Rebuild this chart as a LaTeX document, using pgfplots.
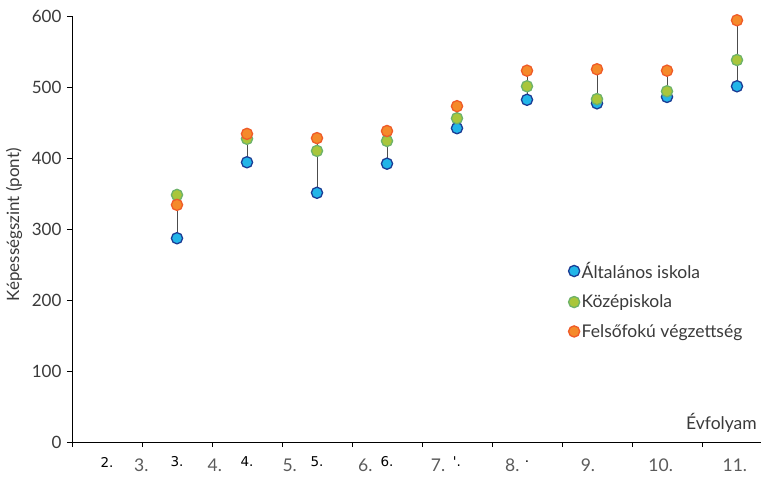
\documentclass[border=0pt]{standalone}
\usepackage{pgfplots}
\pgfplotsset{compat=1.18}
\usepackage{fontspec}
\setmainfont{Lato}
\newfontfamily\blackfont{DejaVu Sans}
\definecolor{bluefill}{HTML}{22B5E8}
\definecolor{blueedge}{HTML}{1B3C94}
\definecolor{greenfill}{HTML}{A9C63B}
\definecolor{greenedge}{HTML}{6DB26A}
\definecolor{orangefill}{HTML}{F58A2A}
\definecolor{orangeedge}{HTML}{EF5B28}
\definecolor{txt}{HTML}{3A3A3A}
\definecolor{graylab}{HTML}{5A5A5A}
\begin{document}
\begin{tikzpicture}
\path[use as bounding box] (-72pt,-36pt) rectangle (689pt,442pt);
\begin{axis}[
 scale only axis, width=689pt, height=426pt,
 xmin=1.5, xmax=11.343, ymin=0, ymax=600,
 clip=false,
 /pgf/number format/assume math mode=true,
 axis lines=left, axis line style={-, black, line width=0.8pt},
 every tick/.style={black, line width=0.8pt},
 ytick={0,100,...,600},
 tick align=outside, major tick length=5pt,
 y tick label style={font=\fontsize{17}{19}\selectfont, text=txt, xshift=-2pt},
 xtick={1.5,2.5,...,10.5}, xticklabels={},
 extra x ticks={2.49,3.54,4.61,5.69,6.73,7.79,8.87,9.91,10.97},
 extra x tick labels={3.,4.,5.,6.,7.,8.,9.,10.,11.},
 extra x tick style={major tick length=0pt, tick label style={font=\fontsize{17.5}{19}\selectfont, text=graylab, yshift=-13pt}},
 legend style={at={(axis description cs:0.716,0.432)}, anchor=north west, draw=none, fill=none, font=\fontsize{17.5}{20}\selectfont, text=txt, row sep=11pt, /tikz/every even column/.append style={column sep=2pt}},
 legend cell align=left,
]
\addplot[forget plot, color=black!70, line width=0.9pt, unbounded coords=jump] coordinates {
 (3,287) (3,348) (3,nan)
 (4,394) (4,434) (4,nan)
 (5,351) (5,428) (5,nan)
 (6,392) (6,438) (6,nan)
 (7,442) (7,473) (7,nan)
 (8,482) (8,523) (8,nan)
 (9,477) (9,525) (9,nan)
 (10,486) (10,523) (10,nan)
 (11,501) (11,594)
};
\addplot[only marks, mark=*, mark size=5.6pt, mark options={fill=bluefill, draw=blueedge, line width=1.3pt}] coordinates {
 (3,287) (4,394) (5,351) (6,392) (7,442) (8,482) (9,477) (10,486) (11,501)
};
\addlegendentry{Általános iskola}
\addplot[only marks, mark=*, mark size=5.6pt, mark options={fill=greenfill, draw=greenedge, line width=1.3pt}] coordinates {
 (3,348) (4,427) (5,410) (6,424) (7,456) (8,501) (9,483) (10,494) (11,538)
};
\addlegendentry{Középiskola}
\addplot[only marks, mark=*, mark size=5.6pt, mark options={fill=orangefill, draw=orangeedge, line width=1.3pt}] coordinates {
 (3,334) (4,434) (5,428) (6,438) (7,473) (8,523) (9,525) (10,523) (11,594)
};
\addlegendentry{Felsőfokú végzettség}
\foreach \xx/\lab in {2/2.,3/3.,4/4.,5/5.,6/6.,7/'.,8/.} {
 \edef\tmp{\noexpand\node[font=\noexpand\blackfont\noexpand\fontsize{13.5}{15}\noexpand\selectfont, text=black, anchor=center] at (axis cs:\xx,0) [yshift=-20pt] {\lab};}
 \tmp
}
\node[anchor=south east, font=\fontsize{17.5}{20}\selectfont, text=txt] at (axis description cs:0.999,0) [yshift=6pt] {Évfolyam};
\node[rotate=90, anchor=center, font=\fontsize{17}{19}\selectfont, text=txt] at (axis description cs:-0.084,0.51) {Képességszint (pont)};
\end{axis}
\end{tikzpicture}
\end{document}
